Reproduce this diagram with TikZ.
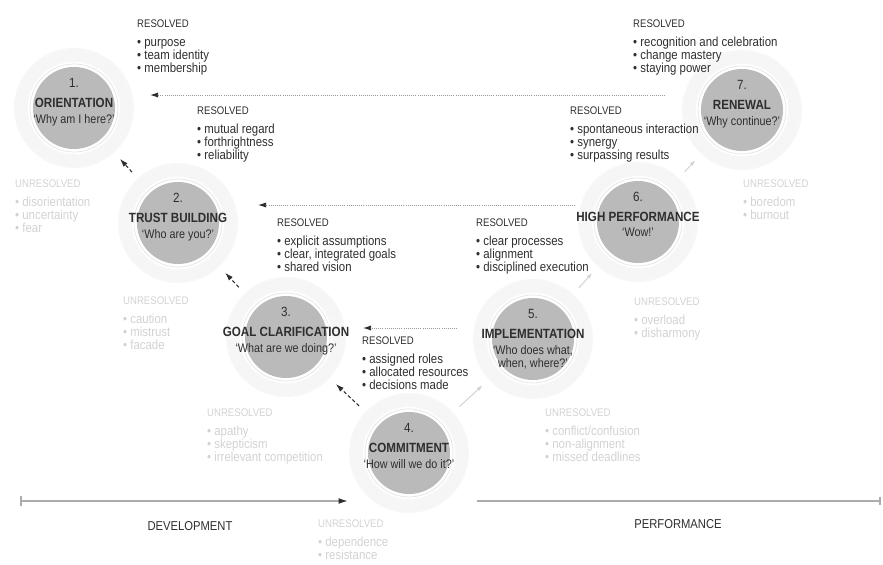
\documentclass[tikz,border=0pt]{standalone}
\usepackage{fontspec}
\setmainfont{Liberation Sans}[FakeStretch=0.87]
\usetikzlibrary{arrows.meta}

\definecolor{gris}{HTML}{BABABA}
\definecolor{encre}{HTML}{2E2E2E}
\definecolor{pale}{HTML}{D2D2D2}
\definecolor{anneau}{HTML}{F7F7F7}

\tikzset{
  halo/.style={circle, fill=anneau, minimum size=3.6cm, inner sep=0pt},
  trame/.style={draw=gray!9, line width=9pt, dash pattern=on 0.4pt off 1.4pt},
  disque/.style={circle, fill=gris, minimum size=2.46cm, inner sep=0pt},
  chiffre/.style={text=encre, font=\fontsize{11.4}{13}\selectfont},
  titre/.style={text=encre, font=\bfseries\fontsize{11.4}{13}\selectfont},
  question/.style={anchor=north, align=center, inner sep=0pt, text=encre, font=\fontsize{10.6}{11.2}\selectfont},
  bloc/.style={anchor=north west, inner sep=0pt, align=left, text=encre, font=\fontsize{11.2}{11.1}\selectfont},
  blocpale/.style={bloc, text=pale},
  retour/.style={densely dashed, encre, line width=0.9pt, -{Latex[length=7pt,width=4.5pt]}, shorten <=0.25cm, shorten >=0.25cm},
  avance/.style={gray!35, line width=0.8pt, -{Latex[length=5pt,width=3.5pt]}, shorten <=0.25cm, shorten >=0.25cm},
  boucle/.style={gray!80, line width=0.8pt, dash pattern=on 0.6pt off 1.2pt, -{Latex[length=7pt,width=4.5pt,color=encre,fill=encre]}},
  axe/.style={gray!65, line width=1.3pt},
  phase/.style={text=encre, font=\fontsize{11}{13}\selectfont}
}
\newcommand{\entete}[1]{{\fontsize{9.4}{11.1}\selectfont #1}\\[5.5pt]}

\begin{document}
\begin{tikzpicture}[x=0.03cm, y=-0.03cm]
    \useasboundingbox (0,0) rectangle (883,565);
    % Etapes
    \foreach \num/\x/\y/\titre/\question in {1/74/108/ORIENTATION/{`Why am I here?'},
        2/178/223/TRUST BUILDING/{`Who are you?'}, 3/286/337/GOAL CLARIFICATION/{`What are we doing?'},
        4/409/453/COMMITMENT/{`How will we do it?'}, 5/533/339/IMPLEMENTATION/{`Who does what,\\when, where?'},
        6/638/222/HIGH PERFORMANCE/{`Wow!'}, 7/742/110/RENEWAL/{`Why continue?'}}{
        \node[halo] (h\num) at (\x,\y) {};
        \draw[trame] (\x,\y) circle (53);
        \fill[white] (\x,\y) circle (46);
        \draw[gray!20, line width=0.6pt] (\x,\y) circle (44);
        \node[disque] (e\num) at (\x,\y) {};
        \node[chiffre] (n\num) at (\x,{\y-25}) {\num.};
        \node[titre] (t\num) at (\x,{\y-5}) {\titre};
        \node[question] (q\num) at (\x,{\y+6}) {\question};
    }
    % Fleches entre etapes
    \draw[retour] (h2) -- (h1);
    \draw[retour] (h3) -- (h2);
    \draw[retour] (h4) -- (h3);
    \draw[avance] (h4) -- (h5);
    \draw[avance] (h5) -- (h6);
    \draw[avance] (h6) -- (h7);
    % Boucles de retour
    \coordinate (b7) at (665,95);  \coordinate (b1) at (150,95);
    \coordinate (b6) at (575,205); \coordinate (b2) at (258,205);
    \coordinate (b5) at (457,328); \coordinate (b3) at (363,328);
    \draw[boucle] (b7) -- (b1);
    \draw[boucle] (b6) -- (b2);
    \draw[boucle] (b5) -- (b3);
    % Resolu
    \node[bloc] (r1) at (137,19.5) {\entete{RESOLVED}• purpose\\• team identity\\• membership};
    \node[bloc] (r2) at (197,106.5) {\entete{RESOLVED}• mutual regard\\• forthrightness\\• reliability};
    \node[bloc] (r3) at (277,218.5) {\entete{RESOLVED}• explicit assumptions\\• clear, integrated goals\\• shared vision};
    \node[bloc] (r4) at (362,336.5) {\entete{RESOLVED}• assigned roles\\• allocated resources\\• decisions made};
    \node[bloc] (r5) at (476,218.5) {\entete{RESOLVED}• clear processes\\• alignment\\• disciplined execution};
    \node[bloc] (r6) at (570,106.5) {\entete{RESOLVED}• spontaneous interaction\\• synergy\\• surpassing results};
    \node[bloc] (r7) at (633,19.5) {\entete{RESOLVED}• recognition and celebration\\• change mastery\\• staying power};
    % Non resolu
    \node[blocpale] (u1) at (15,179.5) {\entete{UNRESOLVED}• disorientation\\• uncertainty\\• fear};
    \node[blocpale] (u2) at (123,296.5) {\entete{UNRESOLVED}• caution\\• mistrust\\• facade};
    \node[blocpale] (u3) at (207,408.5) {\entete{UNRESOLVED}• apathy\\• skepticism\\• irrelevant competition};
    \node[blocpale] (u4) at (318,519.5) {\entete{UNRESOLVED}• dependence\\• resistance};
    \node[blocpale] (u5) at (545,408.5) {\entete{UNRESOLVED}• conflict/confusion\\• non-alignment\\• missed deadlines};
    \node[blocpale] (u6) at (634,297.5) {\entete{UNRESOLVED}• overload\\• disharmony};
    \node[blocpale] (u7) at (743,179.5) {\entete{UNRESOLVED}• boredom\\• burnout};
    % Axe du temps
    \coordinate (d0) at (20,501);  \coordinate (d1) at (348,501);
    \coordinate (p0) at (477,501); \coordinate (p1) at (881,501);
    \draw[axe, {Bar[width=8pt]}-{Latex[length=8pt,width=5pt,fill=encre,color=encre]}] (d0) -- (d1);
    \draw[axe, -{Bar[width=6pt]}] (p0) -- (p1);
    \node[phase] (dev) at (190,526) {DEVELOPMENT};
    \node[phase] (perf) at (678,524) {PERFORMANCE};
\end{tikzpicture}
\end{document}
